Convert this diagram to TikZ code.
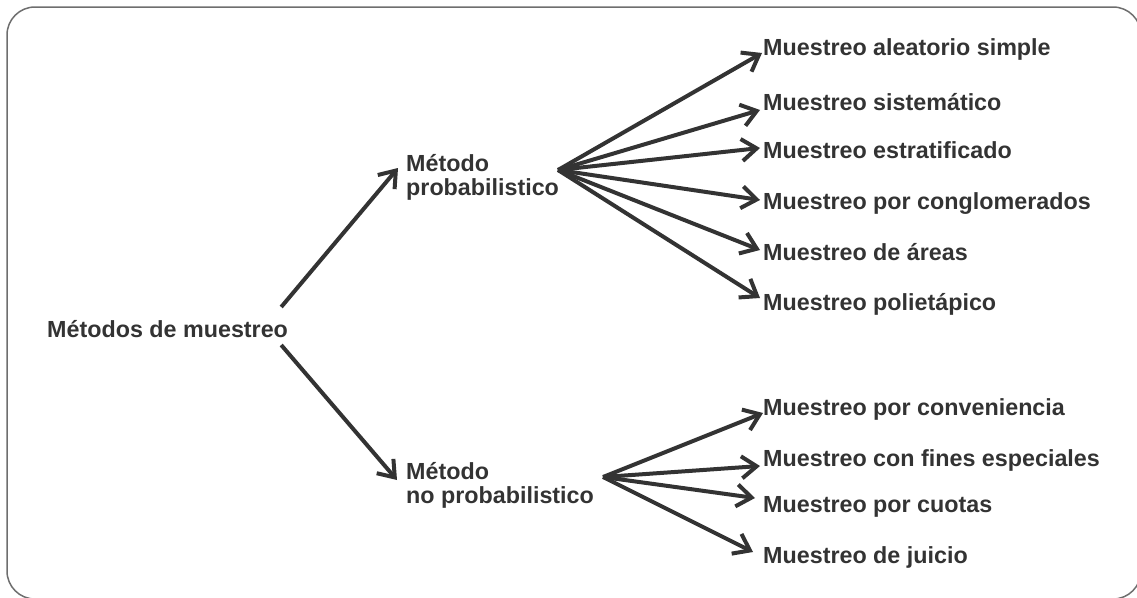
\documentclass[tikz,border=0pt]{standalone}
\usepackage{fontspec}
\setmainfont{Liberation Sans}
\usetikzlibrary{arrows.meta}
\definecolor{ink}{HTML}{333333}
\definecolor{framegray}{HTML}{6E6E6E}
\begin{document}
\begin{tikzpicture}[x=1pt,y=-1pt,
  lbl/.style={font=\bfseries\fontsize{23.3}{24}\selectfont, text=ink, inner sep=0pt,
              text height=17pt, text depth=5pt, anchor=base west},
  grp/.style={font=\bfseries\fontsize{23.3}{23.5}\selectfont, text=ink, inner sep=0pt,
              align=left, anchor=base west},
  link/.style={draw=ink, line width=4pt, -{Straight Barb[length=15pt,width=22pt]}}]
\useasboundingbox (0,0) rectangle (1137,597);
% outer rounded frame (runs slightly past the right and bottom edges)
\begin{scope}
  \clip (0,0) rectangle (1137,597);
  \draw[framegray, line width=1.5pt, rounded corners=28pt] (7,7) rectangle (1141,599);
\end{scope}

% root and the two families of methods (base = baseline of the last line)
\node[lbl] (root) at (47,337) {Métodos de muestreo};
\node[grp] (prob) at (406,195) {Método\\probabilistico};
\node[grp] (nprob) at (406,503) {Método\\no probabilistico};

% probabilistic techniques
\node[lbl] (a1) at (763,55)  {Muestreo aleatorio simple};
\node[lbl] (a2) at (763,110) {Muestreo sistemático};
\node[lbl] (a3) at (763,158) {Muestreo estratificado};
\node[lbl] (a4) at (763,209) {Muestreo por conglomerados};
\node[lbl] (a5) at (763,260) {Muestreo de áreas};
\node[lbl] (a6) at (763,310) {Muestreo polietápico};

% non-probabilistic techniques
\node[lbl] (b1) at (763,415) {Muestreo por conveniencia};
\node[lbl] (b2) at (763,466) {Muestreo con fines especiales};
\node[lbl] (b3) at (763,512) {Muestreo por cuotas};
\node[lbl] (b4) at (763,563) {Muestreo de juicio};

% fan origins beside the group labels
\coordinate (po) at ([shift={(152pt,25pt)}]prob.base west);
\coordinate (npo) at ([shift={(197pt,26pt)}]nprob.base west);

% root to groups
\draw[link] ([shift={(-7pt,24pt)}]root.east) -- ([shift={(-8pt,27pt)}]prob.base west);
\draw[link] ([shift={(-7pt,-14pt)}]root.east) -- ([shift={(-9pt,23pt)}]nprob.base west);

% probabilistic fan
\draw[link] (po) -- ([shift={(-1pt,-4pt)}]a1.west);
\draw[link] (po) -- ([shift={(-3pt,-6pt)}]a2.west);
\draw[link] (po) -- ([shift={(-3pt,4pt)}]a3.west);
\draw[link] (po) -- ([shift={(-3pt,3pt)}]a4.west);
\draw[link] (po) -- ([shift={(-3pt,4pt)}]a5.west);
\draw[link] (po) -- ([shift={(-3pt,6pt)}]a6.west);

% non-probabilistic fan
\draw[link] (npo) -- ([shift={(0pt,-4pt)}]b1.west);
\draw[link] (npo) -- ([shift={(-3pt,-6pt)}]b2.west);
\draw[link] (npo) -- ([shift={(-8pt,8pt)}]b3.west);
\draw[link] (npo) -- ([shift={(-10pt,5pt)}]b4.west);
\end{tikzpicture}
\end{document}
